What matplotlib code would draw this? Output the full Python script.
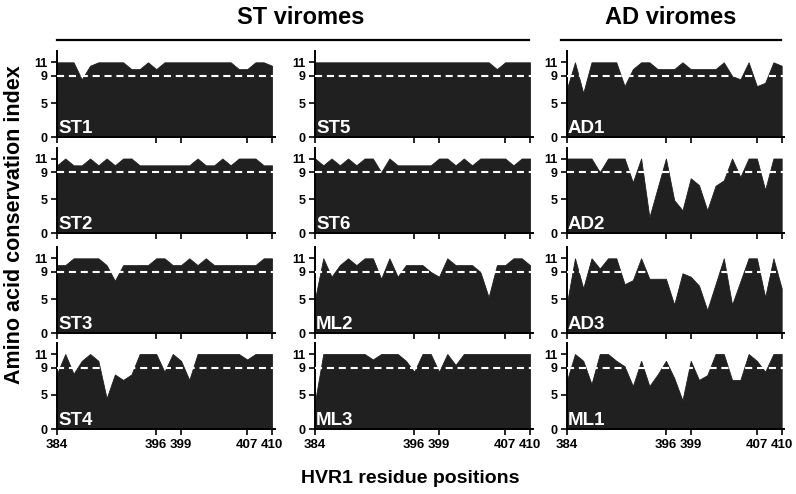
import matplotlib
matplotlib.use("Agg")
import matplotlib.pyplot as plt
from matplotlib.lines import Line2D

plt.rcParams['font.family'] = 'Liberation Sans'
plt.rcParams['font.weight'] = 'bold'

# HVR1 residue positions
positions = list(range(384, 411))
xticks = [384, 396, 399, 407, 410]
yticks = [0, 5, 9, 11]
threshold = 9

# conservation index per virome
ST1 = [11, 11, 11, 8.5, 10.5, 11, 11, 11, 11, 10, 10, 11, 10, 11, 11, 11, 11, 11, 11, 11, 11, 11, 10, 10, 11, 11, 10.5]
ST5 = [11, 11, 11, 11, 11, 11, 11, 11, 11, 11, 11, 11, 11, 11, 11, 11, 11, 11, 11, 11, 11, 11, 10, 11, 11, 11, 11]
AD1 = [7, 11, 6.5, 11, 11, 11, 11, 7.5, 10, 11, 11, 10, 10, 10, 11, 10, 10, 10, 10, 11, 9, 8.5, 11, 7.5, 8, 11, 10.5]
ST2 = [10, 11, 10, 10, 11, 10, 11, 10, 11, 11, 10, 10, 10, 10, 10, 10, 10, 11, 10, 10, 11, 10, 11, 11, 11, 10, 10]
ST6 = [11, 10, 11, 10, 11, 10, 11, 11, 9, 11, 10, 10, 10, 10, 10, 11, 11, 10, 11, 10, 11, 11, 11, 11, 10, 11, 11]
AD2 = [11, 11, 11, 11, 9, 11, 11, 11, 7.5, 11, 2.4, 6.7, 11, 4.9, 3.4, 8.1, 7.1, 3.4, 7, 7.8, 11, 8.3, 11, 11, 6.4, 11, 11]
ST3 = [10, 10, 11, 11, 11, 11, 10, 7.7, 10, 10, 10, 10, 11, 11, 10, 10, 11, 10, 11, 10, 10, 10, 10, 10, 10, 11, 11]
ML2 = [5, 11, 8.3, 10, 11, 10, 11, 11, 8, 11, 8.3, 10, 10, 10, 9, 8.3, 11, 10, 10, 10, 9, 5.3, 10, 10, 11, 11, 10]
AD3 = [4.2, 11, 6.6, 11, 9.5, 11, 11, 7.2, 7.8, 11, 8, 8, 8, 4.2, 8.8, 8.3, 7, 3.4, 7.2, 11, 4.2, 7.6, 11, 11, 5.3, 11, 6.6]
ST4 = [8.1, 11, 8.1, 10, 11, 10, 4.5, 8, 7.2, 8, 11, 11, 11, 8.4, 11, 10, 7.2, 11, 11, 11, 11, 11, 11, 10.2, 11, 11, 11]
ML3 = [4, 11, 11, 11, 11, 11, 11, 10.2, 11, 11, 11, 10, 8.4, 11, 11, 8.4, 11, 9.4, 11, 11, 11, 11, 11, 11, 11, 11, 11]
ML1 = [7, 11, 10, 6.6, 11, 11, 10, 9.2, 6.3, 10, 6.3, 8, 10, 7.5, 4.2, 10, 7.2, 7.9, 11, 11, 7.2, 7.2, 11, 10, 8.4, 11, 11]

grid = [[("ST1", ST1), ("ST5", ST5), ("AD1", AD1)],
        [("ST2", ST2), ("ST6", ST6), ("AD2", AD2)],
        [("ST3", ST3), ("ML2", ML2), ("AD3", AD3)],
        [("ST4", ST4), ("ML3", ML3), ("ML1", ML1)]]

W, H = 796, 494
fig = plt.figure(figsize=(W / 100, H / 100), dpi=100)

col_left = [57, 315, 566.7]
row_bottom = [137.3, 233.5, 333.3, 429]
ax_w = 217.7
ax_h = 85.9

for r, row in enumerate(grid):
    for c, (name, vals) in enumerate(row):
        ax = fig.add_axes([col_left[c] / W, 1 - row_bottom[r] / H, ax_w / W, ax_h / H])
        ax.fill_between(positions, vals, 0, color='#202020', lw=0.6, edgecolor='#202020')
        ax.axhline(threshold, color='white', lw=1.5, ls=(0, (3.4, 2.3)), zorder=3)
        ax.set_xlim(384, 410.33)
        ax.set_ylim(0, 12.6)
        ax.spines['top'].set_visible(False)
        ax.spines['right'].set_visible(False)
        ax.spines['left'].set_linewidth(1.4)
        ax.spines['bottom'].set_linewidth(1.4)
        ax.set_xticks(xticks)
        ax.set_yticks(yticks)
        ax.tick_params(direction='out', length=4, width=1.2, pad=2.5, labelsize=9)
        if r < 3:
            ax.set_xticklabels([])
        else:
            ax.tick_params(axis='x', labelsize=9.5, pad=3)
        ax.text(384.15, 0.6, name, color='white', fontsize=13.5, fontweight='bold',
                ha='left', va='baseline', zorder=4)

fig.text(15 / W, 1 - 225 / H, 'Amino acid conservation index', rotation=90,
         ha='center', va='center', fontsize=15.5, fontweight='bold')
fig.text(410 / W, 1 - 478 / H, 'HVR1 residue positions',
         ha='center', va='center', fontsize=14, fontweight='bold')

fig.text(301 / W, 1 - 18 / H, 'ST viromes', ha='center', va='center', fontsize=17, fontweight='bold')
fig.text(671 / W, 1 - 18 / H, 'AD viromes', ha='center', va='center', fontsize=17, fontweight='bold')
fig.add_artist(Line2D([57 / W, 529 / W], [1 - 40 / H, 1 - 40 / H], color='black', lw=1.6))
fig.add_artist(Line2D([561 / W, 781 / W], [1 - 40 / H, 1 - 40 / H], color='black', lw=1.6))

fig.savefig('out.png', dpi=100)
